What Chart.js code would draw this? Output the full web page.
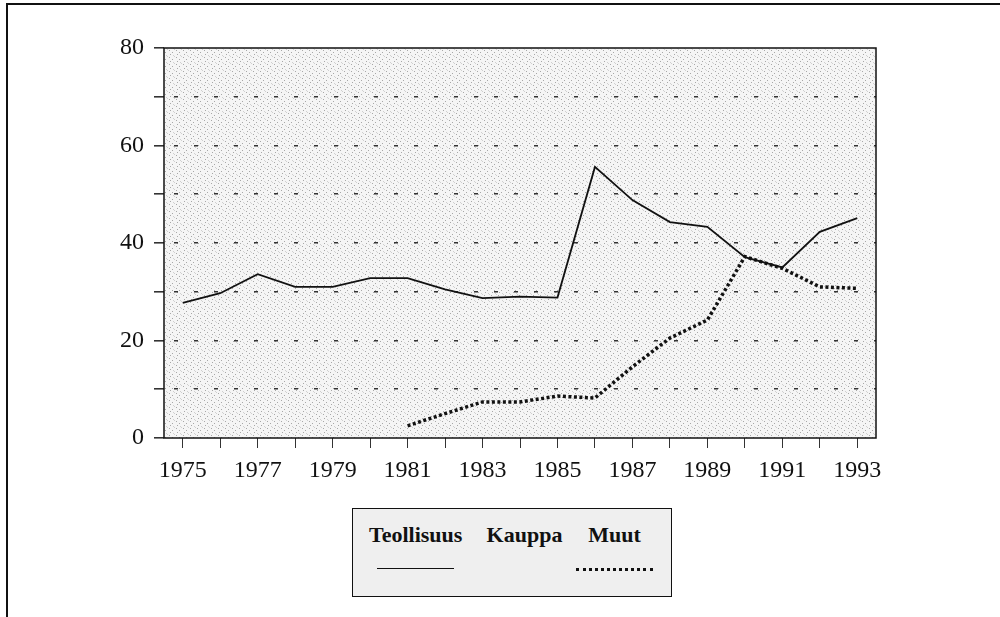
<!DOCTYPE html>
<html>
<head>
<meta charset="utf-8">
<script src="https://cdn.jsdelivr.net/npm/chart.js@4/dist/chart.umd.min.js"></script>
<style>
  body { margin: 0; background: #fff; }
  #wrap { position: relative; width: 1000px; height: 617px; overflow: hidden; }
  #frame { position: absolute; left: 6px; top: 3px; right: -4px; bottom: -4px;
           border-top: 2px solid #111; border-left: 2px solid #111; pointer-events: none; }
  #legend { position: absolute; left: 352px; top: 508px; width: 318px; height: 87px;
            border: 1.5px solid #111; background: #efefef; font-family: 'Liberation Serif', serif;
            font-weight: bold; font-size: 22px; color: #111; }
  .item { position: absolute; top: 13px; text-align: center; }
  .item span { display: block; white-space: nowrap; }
  .item i { display: block; margin: 20px auto 0; width: 77px; height: 0; }
</style>
</head>
<body>
<div id="wrap">
  <canvas id="myChart" width="1000" height="617"></canvas>
  <div id="frame"></div>
  <div id="legend"></div>
</div>
<script>
// eslint-disable-next-line no-unused-vars
const years = ['1975', '1976', '1977', '1978', '1979', '1980', '1981', '1982', '1983', '1984',
  '1985', '1986', '1987', '1988', '1989', '1990', '1991', '1992', '1993'];

const teollisuus = [27.7, 29.7, 33.6, 31, 31, 32.8, 32.8, 30.5, 28.7, 29,
  28.8, 55.6, 48.8, 44.3, 43.3, 37.1, 35, 42.3, 45.1];

// no line for Kauppa is visible in the picture
const kauppa = [null, null, null, null, null, null, null, null, null, null,
  null, null, null, null, null, null, null, null, null];

const muut = [null, null, null, null, null, null, 2.5, 5, 7.4, 7.4,
  8.6, 8.2, 14.6, 20.5, 24.2, 37.2, 34.8, 31, 30.7];

const yTicks = [0, 20, 40, 60, 80];

const serif = 'Liberation Serif';

// stippled grey background of the plot
function makePattern(ctx) {
  let c = document.createElement('canvas');
  c.width = 7; c.height = 7;
  let p = c.getContext('2d');
  p.fillStyle = '#f5f5f5';
  p.fillRect(0, 0, 7, 7);
  p.fillStyle = '#a8a8a8';
  p.fillRect(1, 1, 1, 1);
  p.fillRect(4, 3, 1, 1);
  p.fillRect(2, 5, 1, 1);
  p.fillStyle = '#d0d0d0';
  p.fillRect(6, 0, 1, 1);
  p.fillRect(5, 6, 1, 1);
  return ctx.createPattern(c, 'repeat');
}

const plotBox = {
  id: 'plotBox',
  beforeDraw(chart) {
    const a = chart.chartArea;
    const ctx = chart.ctx;
    ctx.save();
    ctx.fillStyle = makePattern(ctx);
    ctx.fillRect(a.left, a.top, a.right - a.left, a.bottom - a.top);
    ctx.restore();
  },
  afterDraw(chart) {
    const a = chart.chartArea;
    const ctx = chart.ctx;
    ctx.save();
    ctx.setLineDash([]);
    ctx.strokeStyle = '#111';
    ctx.lineWidth = 1.5;
    ctx.strokeRect(a.left, a.top, a.right - a.left, a.bottom - a.top);
    ctx.restore();
  }
};

let ctx = document.getElementById('myChart').getContext('2d');

// eslint-disable-next-line no-undef
let chart = new Chart(ctx, {
  type: 'line',
  data: {
    labels: years,
    datasets: [{
      label: 'Teollisuus',
      data: teollisuus,
      borderColor: '#111',
      borderWidth: 1.8,
    },
    {
      label: 'Kauppa',
      data: kauppa,
      borderColor: 'rgba(0,0,0,0)',
      borderWidth: 0,
    },
    {
      label: 'Muut',
      data: muut,
      borderColor: '#111',
      borderWidth: 3.5,
      borderDash: [3, 2.5],
    }]
  },
  options: {
    responsive: false,
    animation: false,
    events: [],
    spanGaps: false,
    elements: { point: { radius: 0 }, line: { tension: 0 } },
    layout: { padding: { left: 0, top: 48, right: 124, bottom: 139 } },
    plugins: { legend: { display: false }, tooltip: { enabled: false } },
    scales: {
      x: {
        offset: true,
        afterFit(scale) { scale.height = 40; },
        border: { display: false },
        grid: { drawOnChartArea: false, drawTicks: true, tickLength: 10, tickColor: '#333', offset: false },
        ticks: {
          autoSkip: false,
          maxRotation: 0,
          padding: 8,
          color: '#111',
          font: { family: serif, size: 24 },
          callback: function(v, i) { return i % 2 === 0 ? years[i] : ''; }
        }
      },
      y: {
        min: 0,
        max: 80,
        afterFit(scale) { scale.width = 164; },
        border: { display: false, dash: [4, 16], dashOffset: -10 },
        grid: {
          tickLength: 10,
          tickColor: '#333',
          tickBorderDash: [],
          lineWidth: 1.6,
          color: function(c) {
            let v = c.tick ? c.tick.value : 0;
            return (v === 0 || v === 80) ? 'rgba(0,0,0,0)' : '#333';
          }
        },
        ticks: {
          stepSize: 10,
          padding: 10,
          color: '#111',
          font: { family: serif, size: 24 },
          callback: function(v) { return yTicks.includes(v) ? String(v) : ''; }
        }
      }
    }
  },
  plugins: [plotBox]
});

// legend: name on top, line sample below
const legendLeft = [16, 133, 223];
let legend = document.getElementById('legend');
chart.data.datasets.forEach(function(ds, i) {
  let item = document.createElement('div');
  item.className = 'item';
  item.style.left = legendLeft[i] + 'px';
  let name = document.createElement('span');
  name.textContent = ds.label;
  let sample = document.createElement('i');
  if (ds.borderWidth > 0) {
    sample.style.borderTop = ds.borderDash ? '3px dotted #111' : '1.8px solid #111';
  }
  item.appendChild(name);
  item.appendChild(sample);
  legend.appendChild(item);
});
</script>
</body>
</html>
